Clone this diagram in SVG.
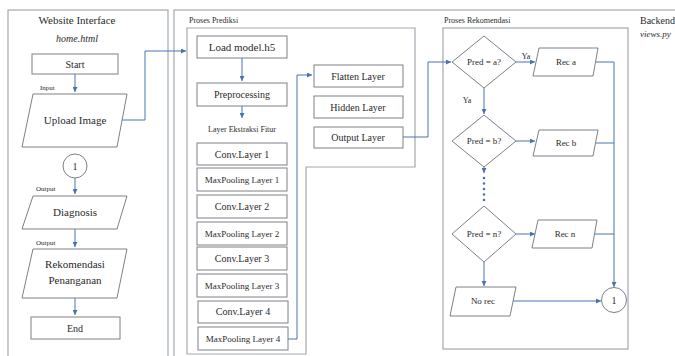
<svg xmlns="http://www.w3.org/2000/svg" width="675" height="356" viewBox="0 0 675 356" font-family="'Liberation Serif', 'Times New Roman', serif">
<defs>
<style>
.frame{fill:none;stroke:#a3a8b0;stroke-width:1.2}
.box{fill:#fff;stroke:#7d8088;stroke-width:1}
.con{fill:none;stroke:#4a72b0;stroke-width:1}
svg text{font-family:"Liberation Serif","Times New Roman",serif;fill:#2a2a2a;text-anchor:middle}
.t11{font-size:11px}
.t10{font-size:10px}
.t9{font-size:9px}
.t8{font-size:8px}
.t7{font-size:7px}
.it{font-style:italic}
svg text.l{text-anchor:start}
</style>
<marker id="ah" viewBox="0 0 6 6" refX="6" refY="3" markerWidth="5" markerHeight="5" orient="auto" markerUnits="userSpaceOnUse">
<path d="M0,0 L6,3 L0,6 z" fill="#4a72b0"/>
</marker>
</defs>
<rect width="675" height="356" fill="#fff"/>

<g id="frames">
<rect class="frame" x="8" y="10" width="160" height="350"/>
<rect class="frame" x="174" y="10" width="520" height="350"/>
<polygon class="frame" points="187,28 415,28 415,167 306,167 306,354 187,354"/>
<rect class="frame" x="443" y="28" width="185" height="321"/>
<text class="t11" x="77" y="24">Website Interface</text>
<text class="t10 it" x="77" y="42">home.html</text>
<text class="t8 l" x="189" y="23">Proses Prediksi</text>
<text class="t8 l" x="444" y="23">Proses Rekomendasi</text>
<text class="t10 l" x="640" y="24">Backend</text>
<text class="t9 it l" x="640" y="37">views.py</text>
</g>

<g id="connectors">
<path class="con" d="M75,74 V92" marker-end="url(#ah)"/>
<path class="con" d="M122,120 H145 V51 H186" marker-end="url(#ah)"/>
<path class="con" d="M75,178 V194" marker-end="url(#ah)"/>
<path class="con" d="M75,229 V247" marker-end="url(#ah)"/>
<path class="con" d="M75,298 V315" marker-end="url(#ah)"/>
<path class="con" d="M242,58 V81" marker-end="url(#ah)"/>
<path class="con" d="M242,106 V118" marker-end="url(#ah)"/>
<path class="con" d="M288,339 H297 V75 H312" marker-end="url(#ah)"/>
<path class="con" d="M403,137 H428 V62 H451" marker-end="url(#ah)"/>
<path class="con" d="M516,62 H535" marker-end="url(#ah)"/>
<path class="con" d="M484,88 V114" marker-end="url(#ah)"/>
<path class="con" d="M516,141 H535" marker-end="url(#ah)"/>
<path class="con" d="M484,167 V173" marker-end="url(#ah)"/>
<path class="con" d="M516,234 H535" marker-end="url(#ah)"/>
<path class="con" d="M484,262 V286" marker-end="url(#ah)"/>
<path class="con" d="M513,301 H601" marker-end="url(#ah)"/>
<path class="con" d="M596,62 H614 V287" marker-end="url(#ah)"/>
<path class="con" d="M596,143 H614"/>
<path class="con" d="M595,234 H614"/>
<g fill="#4a72b0">
<circle cx="484" cy="178" r="1.3"/>
<circle cx="484" cy="183.5" r="1.3"/>
<circle cx="484" cy="189" r="1.3"/>
<circle cx="484" cy="194.5" r="1.3"/>
<circle cx="484" cy="200" r="1.3"/>
</g>
<text class="t7 l" x="40" y="90">Input</text>
<text class="t7 l" x="36" y="191">Output</text>
<text class="t7 l" x="36" y="245">Output</text>
<text class="t8" x="526" y="59">Ya</text>
<text class="t8" x="467" y="103">Ya</text>
</g>

<g id="start"><rect class="box" x="32" y="54" width="86" height="20"/><text class="t10" x="75" y="67.5">Start</text></g>
<g id="upload"><polygon class="box" points="33,94 127,94 117,147 22,147"/><text class="t11" x="75" y="124">Upload Image</text></g>
<g id="conn1"><circle class="box" cx="75" cy="166" r="12"/><text class="t10" x="75" y="169.5">1</text></g>
<g id="diagnosis"><polygon class="box" points="33,196 127,196 117,229 22,229"/><text class="t11" x="75" y="216">Diagnosis</text></g>
<g id="rekomendasi"><polygon class="box" points="33,249 127,249 117,298 22,298"/><text class="t11" x="75" y="268">Rekomendasi</text><text class="t11" x="75" y="284">Penanganan</text></g>
<g id="end"><rect class="box" x="31" y="317" width="89" height="22"/><text class="t10" x="75" y="331.5">End</text></g>

<g id="load"><rect class="box" x="197" y="36" width="90" height="22"/><text class="t11" x="242" y="51">Load model.h5</text></g>
<g id="preprocessing"><rect class="box" x="197" y="83" width="90" height="23"/><text class="t10" x="242" y="98">Preprocessing</text></g>
<text class="t8" x="242" y="132">Layer Ekstraksi Fitur</text>
<g id="conv1"><rect class="box" x="197" y="143" width="90" height="22"/><text class="t10" x="242" y="157.5">Conv.Layer 1</text></g>
<g id="pool1"><rect class="box" x="197" y="168" width="90" height="23"/><text class="t9" x="242" y="182.5">MaxPooling Layer 1</text></g>
<g id="conv2"><rect class="box" x="197" y="195" width="90" height="23"/><text class="t10" x="242" y="209.5">Conv.Layer 2</text></g>
<g id="pool2"><rect class="box" x="197" y="222" width="90" height="23"/><text class="t9" x="242" y="236.5">MaxPooling Layer 2</text></g>
<g id="conv3"><rect class="box" x="197" y="247" width="90" height="23"/><text class="t10" x="242" y="261.5">Conv.Layer 3</text></g>
<g id="pool3"><rect class="box" x="197" y="274" width="90" height="23"/><text class="t9" x="242" y="288.5">MaxPooling Layer 3</text></g>
<g id="conv4"><rect class="box" x="198" y="301" width="90" height="22"/><text class="t10" x="243" y="315">Conv.Layer 4</text></g>
<g id="pool4"><rect class="box" x="198" y="327" width="90" height="23"/><text class="t9" x="243" y="341.5">MaxPooling Layer 4</text></g>

<g id="flatten"><rect class="box" x="314" y="65" width="89" height="22"/><text class="t10" x="358" y="79.5">Flatten Layer</text></g>
<g id="hidden"><rect class="box" x="314" y="96" width="89" height="22"/><text class="t10" x="358" y="110.5">Hidden Layer</text></g>
<g id="output"><rect class="box" x="314" y="127" width="89" height="21"/><text class="t10" x="358" y="141">Output Layer</text></g>

<g id="preda"><polygon class="box" points="484,36 516,62 484,88 452,62"/><text class="t9" x="484" y="65">Pred = a?</text></g>
<g id="reca"><polygon class="box" points="539,48 598,48 593,76 533,76"/><text class="t9" x="566" y="65">Rec a</text></g>
<g id="predb"><polygon class="box" points="484,115 516,141 484,167 452,141"/><text class="t9" x="484" y="144">Pred = b?</text></g>
<g id="recb"><polygon class="box" points="539,130 598,130 593,156 533,156"/><text class="t9" x="566" y="146">Rec b</text></g>
<g id="predn"><polygon class="box" points="484,206 516,234 484,262 452,234"/><text class="t9" x="484" y="237">Pred = n?</text></g>
<g id="recn"><polygon class="box" points="538,220 597,220 592,248 532,248"/><text class="t9" x="565" y="237">Rec n</text></g>
<g id="norec"><polygon class="box" points="456,287 516,287 510,316 450,316"/><text class="t9" x="483" y="304">No rec</text></g>
<g id="conn1b"><circle class="box" cx="614" cy="300" r="12.5"/><text class="t10" x="614" y="303.5">1</text></g>
</svg>
